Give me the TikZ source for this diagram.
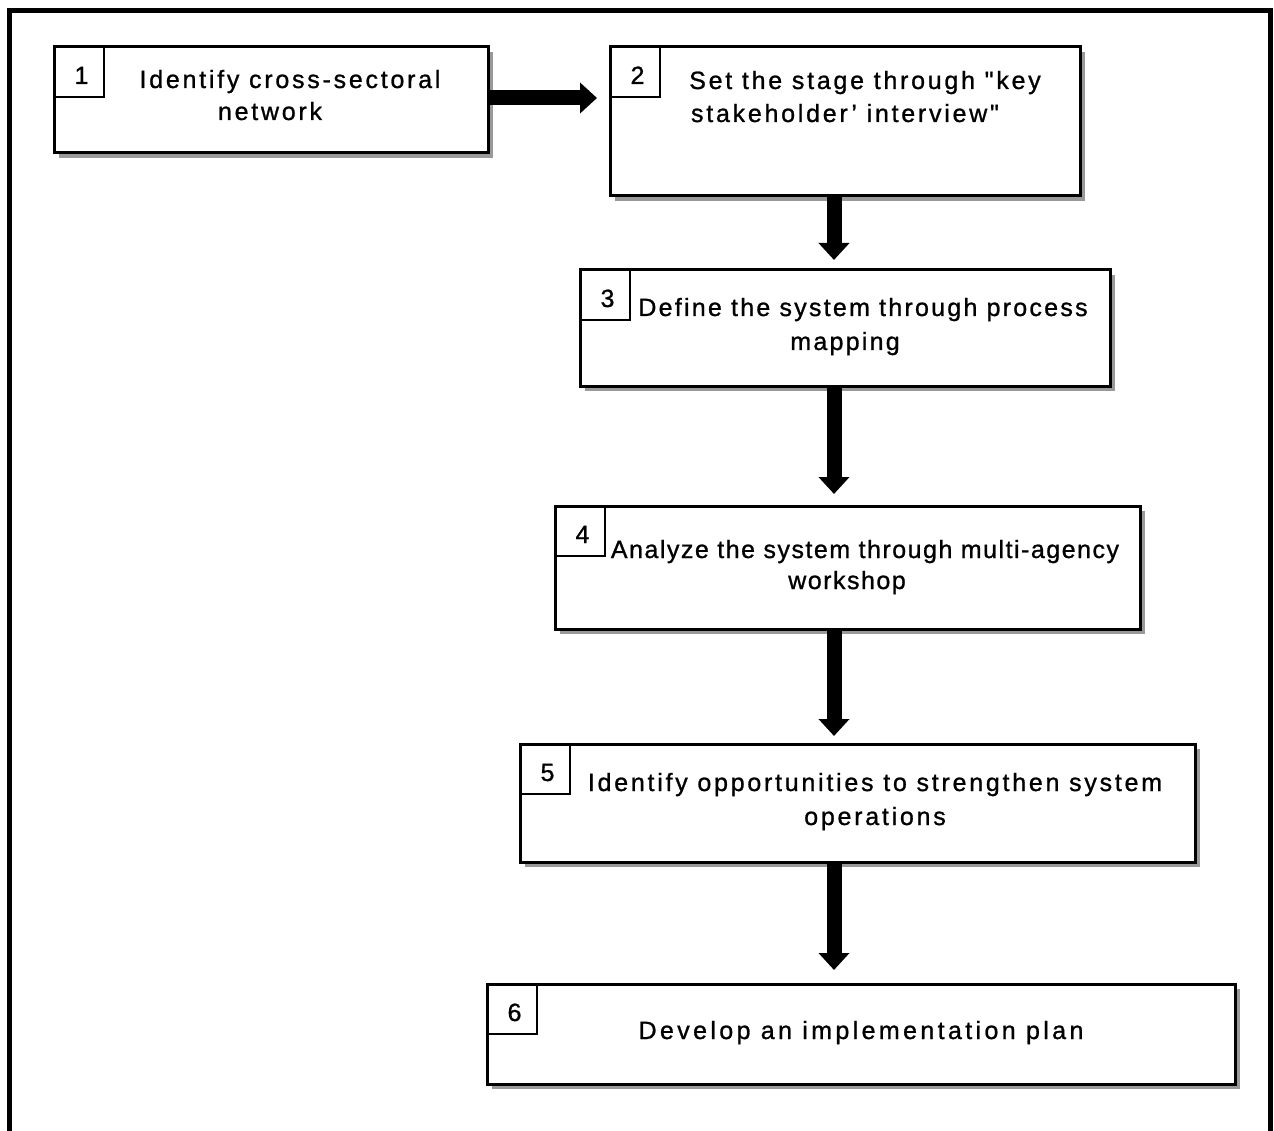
\documentclass[tikz,border=0pt]{standalone}
\usepackage{fontspec}
\setmainfont{Liberation Sans}[FakeBold=1]
\newfontfamily\lsA[LetterSpace=11,FakeBold=1]{Liberation Sans}
\newfontfamily\lsB[LetterSpace=9,FakeBold=1]{Liberation Sans}
\newfontfamily\lsC[LetterSpace=6,FakeBold=1]{Liberation Sans}
\newfontfamily\lsD[LetterSpace=13.5,FakeBold=1]{Liberation Sans}
\usetikzlibrary{arrows.meta,shadows}
\begin{document}
\begin{tikzpicture}[x=1pt,y=-1pt,
  box/.style={draw,line width=3pt,fill=white,inner sep=0pt,outer sep=0pt,
    drop shadow={shadow xshift=5pt,shadow yshift=-5pt,fill=black!40,opacity=1}},
  numbox/.style={draw,line width=2pt,minimum width=50pt,minimum height=50pt,
    inner sep=0pt,outer sep=0pt,anchor=north west,text height=24pt,text depth=0pt,
    font=\fontsize{25}{30}\selectfont},
  tA/.style={anchor=base,inner sep=0pt,font=\lsA\fontsize{25}{30}\selectfont},
  tB/.style={anchor=base,inner sep=0pt,font=\lsB\fontsize{25}{30}\selectfont},
  tC/.style={anchor=base,inner sep=0pt,font=\lsC\fontsize{25}{30}\selectfont},
  tD/.style={anchor=base,inner sep=0pt,font=\lsD\fontsize{25}{30}\selectfont},
  bigarrow/.style={line width=15pt,-{Triangle[width=30pt,length=17pt]}},
  frame/.style={line width=5pt}]
\useasboundingbox (0,0) rectangle (1274,1131);
\fill[white] (0,0) rectangle (1274,1131);
\draw[frame] (9.5,1131) -- (9.5,10.5) -- (1270.5,10.5) -- (1270.5,1131);

\coordinate (ax) at (834,0);
\coordinate (hy) at (0,98);

% boxes
\node[box,minimum width=434pt,minimum height=106pt] (b1) at (271,100) {};
\node[box,minimum width=470pt,minimum height=149pt] (b2) at (845,121.5) {};
\node[box,minimum width=530pt,minimum height=116pt] (b3) at (845,328) {};
\node[box,minimum width=585pt,minimum height=123pt] (b4) at (847.5,567.5) {};
\node[box,minimum width=675pt,minimum height=118pt] (b5) at (857.5,803) {};
\node[box,minimum width=748pt,minimum height=100pt] (b6) at (861,1034) {};

% number boxes
\node[numbox] (n1) at (b1.north west) {\hspace{5pt}1};
\node[numbox] (n2) at (b2.north west) {\hspace{5pt}2};
\node[numbox] (n3) at (b3.north west) {\hspace{5pt}3};
\node[numbox] (n4) at (b4.north west) {\hspace{5pt}4};
\node[numbox] (n5) at (b5.north west) {\hspace{5pt}5};
\node[numbox] (n6) at (b6.north west) {\hspace{5pt}6};

% texts
\node[tA] (t1a) at (290,88) {Identify cross-sectoral};
\node[tA] (t1b) at (270,120) {network};
\node[tA] (t2a) at (865,89) {Set the stage through "key};
\node[tA] (t2b) at (845,122) {stakeholder’ interview"};
\node[tB] (t3a) at (863,316) {Define the system through process};
\node[tB] (t3b) at (845,350) {mapping};
\node[tC] (t4a) at (865,558) {Analyze the system through multi-agency};
\node[tC] (t4b) at (847,589) {workshop};
\node[tA] (t5a) at (875,791) {Identify opportunities to strengthen system};
\node[tA] (t5b) at (875,825) {operations};
\node[tD] (t6a) at (861,1039) {Develop an implementation plan};

% arrows
\draw[bigarrow,shorten >=13pt] (b1.east |- hy) -- (b2.west |- hy);
\draw[bigarrow,shorten >=10pt] (b2.south -| ax) -- (b3.north -| ax);
\draw[bigarrow,shorten >=12pt] (b3.south -| ax) -- (b4.north -| ax);
\draw[bigarrow,shorten >=8pt] (b4.south -| ax) -- (b5.north -| ax);
\draw[bigarrow,shorten >=14pt] (b5.south -| ax) -- (b6.north -| ax);
\end{tikzpicture}
\end{document}
